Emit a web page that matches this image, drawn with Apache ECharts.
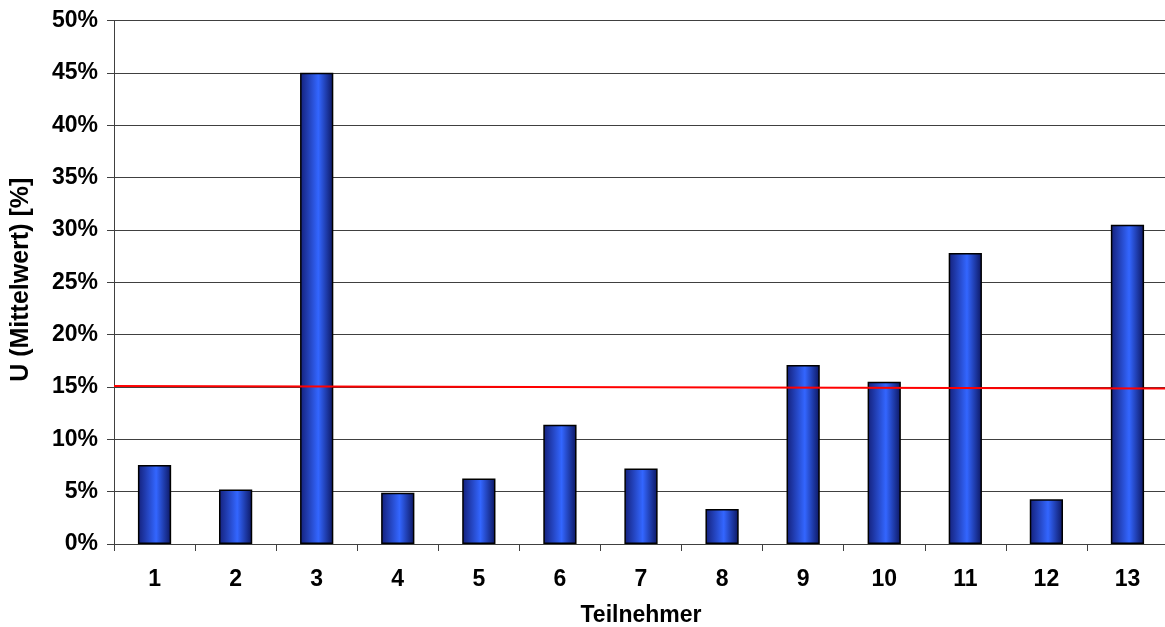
<!DOCTYPE html>
<html><head><meta charset="utf-8">
<script src="https://cdn.jsdelivr.net/npm/echarts@6/dist/echarts.min.js"></script>
<style>html,body{margin:0;padding:0;background:#fff}#c{width:1165px;height:627px}</style>
</head><body><div id="c"></div>
<script>
var categories = ['1','2','3','4','5','6','7','8','9','10','11','12','13'];
var values = [7.55, 5.2, 45.0, 4.9, 6.25, 11.4, 7.2, 3.35, 17.1, 15.5, 27.8, 4.27, 30.5];
var refLine = [[0, 15.1], [1, 14.85]];
var yTicks = {min: 0, max: 50, interval: 5};
var xTitle = 'Teilnehmer';
var yTitle = 'U (Mittelwert) [%]';

var font = 'Liberation Sans, Arial, sans-serif';
var fs = 23;
var chart = echarts.init(document.getElementById('c'), null, {renderer: 'canvas'});
chart.setOption({
  animation: false,
  grid: {left: 114, top: 20.5, width: 1054, height: 523.5, containLabel: false, outerBoundsMode: 'none'},
  xAxis: [{
    type: 'category', data: categories,
    axisLine: {lineStyle: {color: '#404040', width: 1}},
    axisTick: {show: true, length: 7, alignWithLabel: false, lineStyle: {color: '#404040'}},
    axisLabel: {color: '#000', fontFamily: font, fontWeight: 'bold', fontSize: fs, margin: 24},
    name: xTitle, nameLocation: 'middle', nameGap: 60,
    nameTextStyle: {color: '#000', fontFamily: font, fontWeight: 'bold', fontSize: fs}
  }, {
    type: 'value', min: 0, max: 1, show: false
  }],
  yAxis: {
    type: 'value', min: yTicks.min, max: yTicks.max, interval: yTicks.interval,
    axisLine: {show: true, lineStyle: {color: '#404040', width: 1}},
    axisTick: {show: true, length: 7, lineStyle: {color: '#404040'}},
    splitLine: {show: true, lineStyle: {color: '#404040', width: 1}},
    axisLabel: {color: '#000', fontFamily: font, fontWeight: 'bold', fontSize: fs, margin: 16, formatter: '{value}%'},
    name: yTitle, nameLocation: 'middle', nameGap: 80,
    nameTextStyle: {color: '#000', fontFamily: font, fontWeight: 'bold', fontSize: 25, padding: [0, 0, 0, 5]}
  },
  series: [{
    type: 'bar', data: values, barWidth: '41%', xAxisIndex: 0,
    itemStyle: {
      color: new echarts.graphic.LinearGradient(0, 0, 1, 0, [
        {offset: 0, color: '#14207a'},
        {offset: 0.55, color: '#3366ff'},
        {offset: 1, color: '#0c1660'}
      ]),
      borderColor: '#000', borderWidth: 1.5
    }
  }, {
    type: 'line', xAxisIndex: 1, data: refLine, symbol: 'none',
    lineStyle: {color: '#ff0000', width: 2}, z: 5
  }]
});
</script></body></html>
